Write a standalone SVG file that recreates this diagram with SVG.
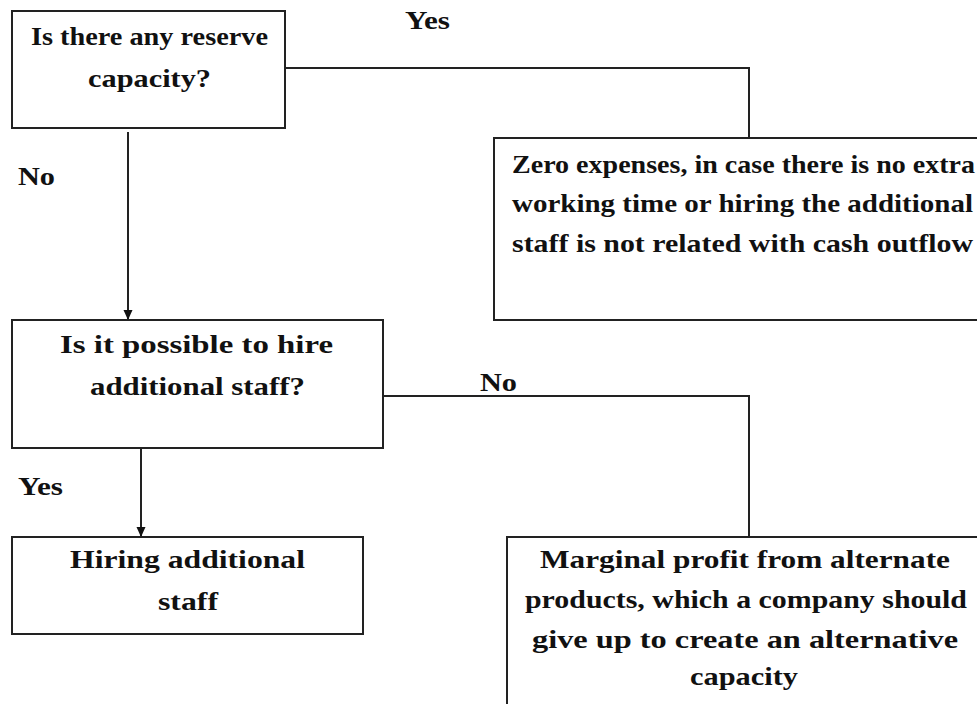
<svg xmlns="http://www.w3.org/2000/svg" width="977" height="704" viewBox="0 0 977 704">
<style>
.box{fill:#fff;stroke:#222;stroke-width:2}
.ln{fill:none;stroke:#222;stroke-width:2}
text{font-family:"Liberation Serif","Times New Roman",serif;font-weight:bold;font-size:25px;fill:#111}
</style>
<defs>
<marker id="ah" markerWidth="10" markerHeight="10" refX="9" refY="5" orient="auto" markerUnits="userSpaceOnUse">
<path d="M0,0.5 L10,5 L0,9.5 Z" fill="#111"/>
</marker>
</defs>
<rect width="977" height="704" fill="#fff"/>
<g id="connectors">
<polyline class="ln" points="285,68 749,68 749,145"/>
<line class="ln" x1="128" y1="132" x2="128" y2="319" marker-end="url(#ah)"/>
<polyline class="ln" points="383,396 749,396 749,537"/>
<line class="ln" x1="141" y1="448" x2="141" y2="536" marker-end="url(#ah)"/>
<text x="405" y="29" textLength="45" lengthAdjust="spacingAndGlyphs">Yes</text>
<text x="18" y="185" textLength="37" lengthAdjust="spacingAndGlyphs">No</text>
<text x="480" y="391" textLength="37" lengthAdjust="spacingAndGlyphs">No</text>
<text x="18" y="495" textLength="45" lengthAdjust="spacingAndGlyphs">Yes</text>
</g>
<g id="n1">
<rect class="box" x="12" y="11" width="273" height="117"/>
<text x="31" y="45" textLength="237" lengthAdjust="spacingAndGlyphs">Is there any reserve</text>
<text x="88" y="87" textLength="123" lengthAdjust="spacingAndGlyphs">capacity?</text>
</g>
<g id="n2">
<rect class="box" x="494" y="138" width="500" height="182"/>
<text x="512" y="173" textLength="463" lengthAdjust="spacingAndGlyphs">Zero expenses, in case there is no  extra</text>
<text x="512" y="212" textLength="461" lengthAdjust="spacingAndGlyphs">working time or hiring the  additional</text>
<text x="512" y="252" textLength="461" lengthAdjust="spacingAndGlyphs">staff is not related with  cash  outflow</text>
</g>
<g id="n3">
<rect class="box" x="12" y="320" width="371" height="128"/>
<text x="60" y="353" textLength="273" lengthAdjust="spacingAndGlyphs">Is it possible to hire</text>
<text x="90" y="395" textLength="215" lengthAdjust="spacingAndGlyphs">additional staff?</text>
</g>
<g id="n4">
<rect class="box" x="12" y="537" width="351" height="97"/>
<text x="70" y="568" textLength="235" lengthAdjust="spacingAndGlyphs">Hiring additional</text>
<text x="158" y="610" textLength="60" lengthAdjust="spacingAndGlyphs">staff</text>
</g>
<g id="n5">
<rect class="box" x="507" y="537" width="500" height="200"/>
<text x="540" y="568" textLength="410" lengthAdjust="spacingAndGlyphs">Marginal profit from alternate</text>
<text x="525" y="608" textLength="442" lengthAdjust="spacingAndGlyphs">products, which a company should</text>
<text x="532" y="648" textLength="426" lengthAdjust="spacingAndGlyphs">give up to create an alternative</text>
<text x="690" y="685" textLength="108" lengthAdjust="spacingAndGlyphs">capacity</text>
</g>
</svg>
